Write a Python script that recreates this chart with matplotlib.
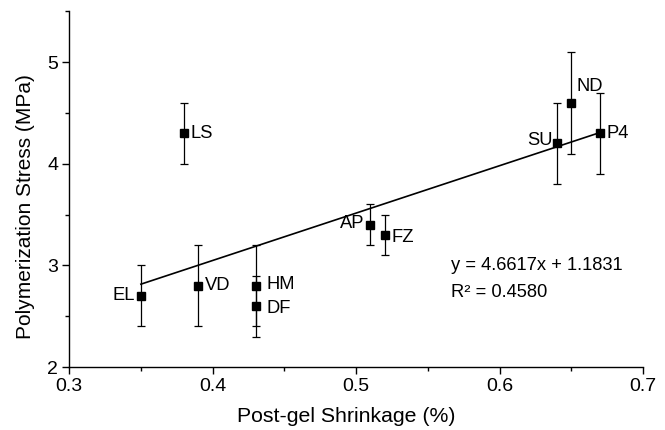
import matplotlib
matplotlib.use("Agg")
import matplotlib.pyplot as plt
from matplotlib.ticker import MultipleLocator

plt.rcParams['font.family'] = ['Liberation Sans', 'DejaVu Sans']

labels = ["EL", "LS", "VD", "HM", "DF", "AP", "FZ", "SU", "ND", "P4"]
shrinkage = [0.35, 0.38, 0.39, 0.43, 0.43, 0.51, 0.52, 0.64, 0.65, 0.67]
stress = [2.7, 4.3, 2.8, 2.8, 2.6, 3.4, 3.3, 4.2, 4.6, 4.3]
stress_err = [0.3, 0.3, 0.4, 0.4, 0.3, 0.2, 0.2, 0.4, 0.5, 0.4]
slope, intercept = 4.6617, 1.1831
fit_x = [0.35, 0.67]

# label offsets in points and alignment
label_offsets = {
    "EL": (-4, 0, "right", "center"),
    "LS": (5, 0, "left", "center"),
    "VD": (5, 0, "left", "center"),
    "HM": (8, 1, "left", "center"),
    "DF": (8, -2, "left", "center"),
    "AP": (-4, 1, "right", "center"),
    "FZ": (5, -2, "left", "center"),
    "SU": (-3, 2, "right", "center"),
    "ND": (4, 12, "left", "center"),
    "P4": (5, 0, "left", "center"),
}

fig = plt.figure(figsize=(6.65, 4.3), dpi=100)
ax = fig.add_axes([0.104, 0.1465, 0.863, 0.8275])

ax.plot(fit_x, [slope * x + intercept for x in fit_x], color='black', lw=1.2, zorder=2)
ax.errorbar(shrinkage, stress, yerr=stress_err, fmt='s', color='black',
            ms=6.3, elinewidth=0.9, capsize=3, capthick=0.9, zorder=3)

for lab, x, y in zip(labels, shrinkage, stress):
    dx, dy, ha, va = label_offsets[lab]
    ax.annotate(lab, (x, y), xytext=(dx, dy), textcoords='offset points',
                ha=ha, va=va, fontsize=13.2)

ax.text(0.566, 3.0, f"y = {slope:.4f}x + {intercept:.4f}", fontsize=13.2, va='center')
ax.text(0.566, 2.73, "R² = 0.4580", fontsize=13.2, va='center')

ax.set_xlim(0.3, 0.7)
ax.set_ylim(2, 5.5)
ax.set_xticks([0.3, 0.4, 0.5, 0.6, 0.7])
ax.set_xticklabels(["0.3", "0.4", "0.5", "0.6", "0.7"])
ax.set_yticks([2, 3, 4, 5])
ax.xaxis.set_minor_locator(MultipleLocator(0.05))
ax.yaxis.set_minor_locator(MultipleLocator(0.5))
ax.spines['top'].set_visible(False)
ax.spines['right'].set_visible(False)
for s in ['left', 'bottom']:
    ax.spines[s].set_linewidth(1.0)
ax.tick_params(which='major', direction='out', length=5, width=1, labelsize=14, colors='black', pad=3)
ax.tick_params(which='minor', direction='out', length=3, width=1)
ax.set_xlabel("Post-gel Shrinkage (%)", fontsize=15.3, va='center')
ax.set_ylabel("Polymerization Stress (MPa)", fontsize=15, va='center')
ax.xaxis.set_label_coords(0.4826, -0.140)
ax.yaxis.set_label_coords(-0.0767, 0.452)

fig.savefig("out.png", dpi=100)
